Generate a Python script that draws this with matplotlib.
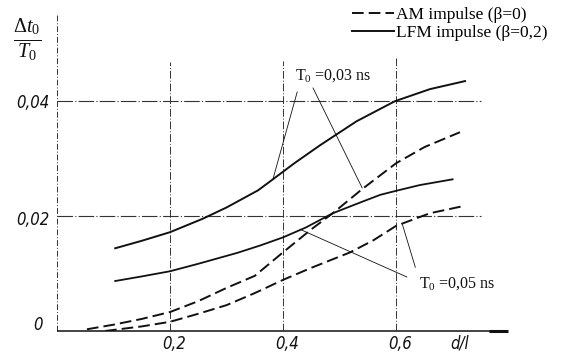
import matplotlib
matplotlib.use("Agg")
import matplotlib.pyplot as plt

plt.rcParams["mathtext.fontset"] = "custom"
plt.rcParams["mathtext.rm"] = "Liberation Serif"
plt.rcParams["mathtext.it"] = "Liberation Serif:italic"

# ── data (x = d/l, y = Δt0/T0) ───────────────────────────────────────────────
lfm_03_x = [0.103, 0.15, 0.2, 0.257, 0.3, 0.356, 0.382, 0.42, 0.465, 0.53, 0.598, 0.66, 0.722]
lfm_03_y = [0.0144, 0.0157, 0.0172, 0.0195, 0.0215, 0.0245, 0.0264, 0.0292, 0.0323, 0.0365, 0.0400, 0.0421, 0.0435]

am_03_x = [0.053, 0.1, 0.15, 0.2, 0.25, 0.3, 0.35, 0.4, 0.45, 0.488, 0.54, 0.572, 0.6, 0.65, 0.713]
am_03_y = [0.0003, 0.0011, 0.0021, 0.0033, 0.0052, 0.0075, 0.0096, 0.0137, 0.0177, 0.0205, 0.0247, 0.0271, 0.0292, 0.0320, 0.0346]

lfm_05_x = [0.103, 0.15, 0.2, 0.25, 0.319, 0.36, 0.4, 0.44, 0.488, 0.54, 0.572, 0.6, 0.642, 0.70]
lfm_05_y = [0.0087, 0.0095, 0.0104, 0.0117, 0.0136, 0.0149, 0.0163, 0.0180, 0.0205, 0.0225, 0.0237, 0.0244, 0.0254, 0.0264]

am_05_x = [0.085, 0.15, 0.2, 0.25, 0.3, 0.35, 0.4, 0.45, 0.519, 0.56, 0.6, 0.66, 0.717]
am_05_y = [0.0, 0.0008, 0.0016, 0.0030, 0.0045, 0.0066, 0.0089, 0.0110, 0.0137, 0.0158, 0.0183, 0.0205, 0.0217]

x_ticks = [0.2, 0.4, 0.6]
x_tick_labels = ["0,2", "0,4", "0,6"]
y_ticks = [0.04, 0.02, 0.0]
y_tick_labels = ["0,04", "0,02", "0"]

INK = "#111111"
GRID = "#333333"

fig = plt.figure(figsize=(5.72, 3.52), dpi=100, facecolor="white")
ax = fig.add_axes([57 / 572, 1 - 331 / 352, (508 - 57) / 572, (331 - 15) / 352])
ax.set_xlim(0, 0.798)
ax.set_ylim(0, 0.055)
ax.axis("off")

# axes and grid, drawn by hand like the scanned drawing
ax.vlines(0, 0, 0.055, colors=GRID, lw=0.7, linestyles=(0, (6, 2, 1, 2)), clip_on=False)
ax.hlines(0, 0, 0.798, colors=INK, lw=1.1, clip_on=False)
ax.hlines(0, 0.765, 0.798, colors=INK, lw=2.2, clip_on=False)
ax.vlines(x_ticks, 0, [0.0468, 0.0470, 0.0476], colors=GRID, lw=0.7,
          linestyles=(0, (8, 2, 1, 2)))
ax.hlines([0.02, 0.04], 0, 0.75, colors=GRID, lw=0.8, linestyles=(0, (14, 2, 1, 2)))

# curves
dash = (0, (6, 2.6))
ax.plot(am_03_x, am_03_y, color=INK, lw=1.4, ls=dash, label="AM impulse (β=0)")
ax.plot(am_05_x, am_05_y, color=INK, lw=1.4, ls=dash)
ax.plot(lfm_03_x, lfm_03_y, color=INK, lw=1.4, label="LFM impulse (β=0,2)")
ax.plot(lfm_05_x, lfm_05_y, color=INK, lw=1.3)

# tick labels (hand-lettered look)
hand = dict(family="DejaVu Sans", style="oblique", fontstretch="condensed",
            fontsize=12, color=INK)
for x, lbl in zip(x_ticks, x_tick_labels):
    ax.text(x + 0.008, -0.0022, lbl, ha="center", va="center", **hand)
ax.text(0.713, -0.0022, "d/l", ha="center", va="center", **hand)
ax.text(-0.0124, 0.0397, y_tick_labels[0], ha="right", va="center", **hand)
ax.text(-0.0124, 0.0193, y_tick_labels[1], ha="right", va="center", **hand)
ax.text(-0.025, 0.0010, y_tick_labels[2], ha="right", va="center", **hand)

fig.text(27 / 572, 1 - 40 / 352, r"$\frac{\Delta t_0}{T_0}$", fontsize=21,
         ha="center", va="center", color=INK)

# annotations with leader lines
serif = dict(family="Liberation Serif", fontsize=11.5, color=INK)
ax.text(0.488, 0.0445, r"$\mathrm{T}_0$ =0,03 ns", ha="center", va="center", **serif)
ax.plot([0.425, 0.382], [0.0416, 0.0264], color=INK, lw=0.6)
ax.plot([0.453, 0.540], [0.0423, 0.0249], color=INK, lw=0.6)

ax.text(0.708, 0.0083, r"$\mathrm{T}_0$ =0,05 ns", ha="center", va="center", **serif)
ax.plot([0.619, 0.430], [0.0094, 0.0177], color=INK, lw=0.6)
ax.plot([0.634, 0.611], [0.0111, 0.0186], color=INK, lw=0.6)

fig.legend(loc="upper right", bbox_to_anchor=(548 / 572, 1 - 7 / 352),
           frameon=False, prop={"family": "Liberation Serif", "size": 12.5},
           handlelength=2.4, handletextpad=0.15, labelspacing=0.1, borderpad=0,
           borderaxespad=0)

fig.savefig("out.png", dpi=100, facecolor="white")
